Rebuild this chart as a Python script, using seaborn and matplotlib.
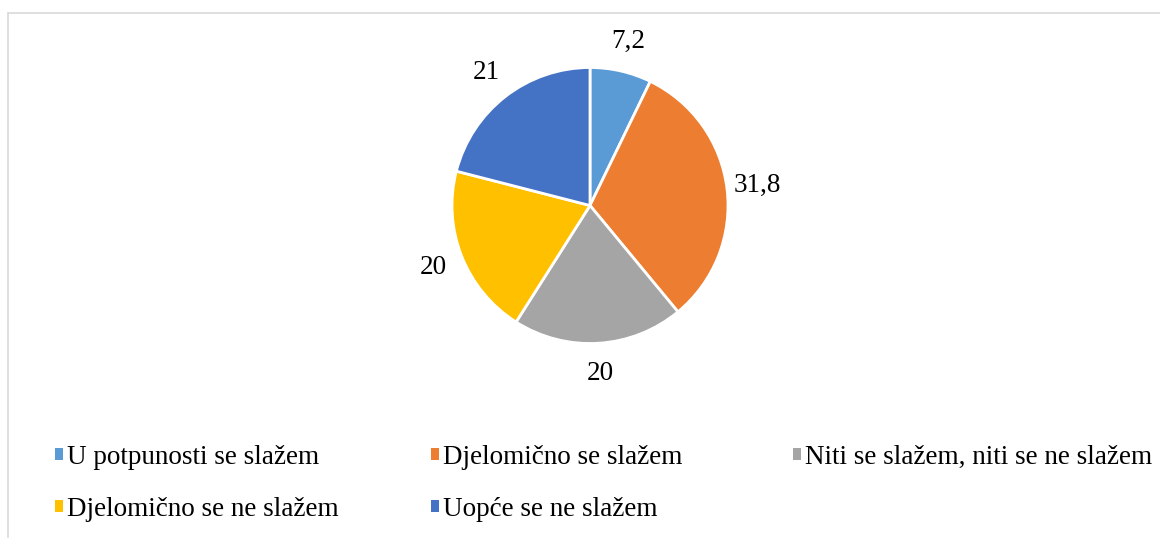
import matplotlib
matplotlib.use("Agg")
import matplotlib.pyplot as plt
from matplotlib.lines import Line2D
from matplotlib.patches import Patch
import seaborn as sns

categories = [
    "U potpunosti se slažem",
    "Djelomično se slažem",
    "Niti se slažem, niti se ne slažem",
    "Djelomično se ne slažem",
    "Uopće se ne slažem",
]
values = [7.2, 31.8, 20, 20, 21]
value_labels = ["7,2", "31,8", "20", "20", "21"]
colors = ["#5B9BD5", "#ED7D31", "#A5A5A5", "#FFC000", "#4472C4"]

sns.set_theme(style="white")
plt.rcParams["font.family"] = ["Liberation Serif", "DejaVu Serif"]
plt.rcParams["text.color"] = "black"

W, H = 1160, 538
fig = plt.figure(figsize=(W / 100, H / 100), dpi=100)
fig.patch.set_facecolor("white")

# chart border (only top and left visible in the crop)
fig.add_artist(Line2D([8 / W, 1], [1 - 13 / H, 1 - 13 / H], color="#D9D9D9", lw=1.2))
fig.add_artist(Line2D([8 / W, 8 / W], [0, 1 - 13 / H], color="#D9D9D9", lw=1.2))

# pie axes: center (590, 205.5) px, radius 138 px
cx, cy, r = 590, 205.5, 138
ax = fig.add_axes([(cx - r) / W, (H - cy - r) / H, 2 * r / W, 2 * r / H])

lab_iter = iter(value_labels)
wedges, _, autotexts = ax.pie(
    values,
    colors=colors,
    startangle=90,
    counterclock=False,
    radius=1,
    autopct=lambda p: next(lab_iter),
    pctdistance=1.22,
    wedgeprops=dict(edgecolor="white", linewidth=2),
    textprops=dict(fontsize=19.5, color="black"),
)
ax.set_xlim(-1, 1)
ax.set_ylim(-1, 1)
ax.set_aspect("equal")
ax.axis("off")

# legend laid out as three columns like the original
handles = [Patch(facecolor=c, edgecolor="none") for c in colors]
col_x = [55, 431, 793]
col_items = [[0, 3], [1, 4], [2]]
for x, items in zip(col_x, col_items):
    fig.legend(
        [handles[i] for i in items],
        [categories[i] for i in items],
        loc="upper left",
        bbox_to_anchor=(x / W, 1 - 445 / H),
        frameon=False,
        fontsize=19.5,
        labelcolor="black",
        handlelength=0.3,
        handleheight=0.3,
        handletextpad=0.15,
        labelspacing=1.0,
        borderpad=0,
        borderaxespad=0,
    )

fig.savefig("out.png", dpi=100)
